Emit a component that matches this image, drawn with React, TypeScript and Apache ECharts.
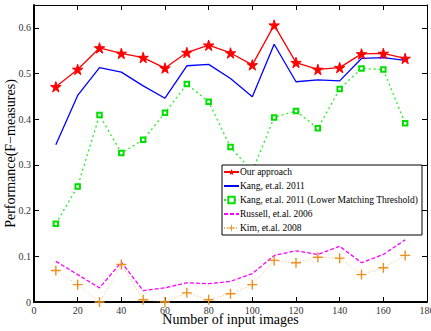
import React, { useEffect, useRef } from "react";
import * as echarts from "echarts";

const xValues = [10, 20, 30, 40, 50, 60, 70, 80, 90, 100, 110, 120, 130, 140, 150, 160, 170];
const ourApproach = [0.471, 0.509, 0.556, 0.544, 0.535, 0.512, 0.546, 0.562, 0.545, 0.519, 0.606, 0.524, 0.509, 0.513, 0.543, 0.544, 0.533];
const kang2011 = [0.344, 0.452, 0.513, 0.503, 0.473, 0.446, 0.517, 0.52, 0.489, 0.449, 0.564, 0.482, 0.486, 0.484, 0.533, 0.535, 0.529];
const kangLower = [0.171, 0.253, 0.409, 0.326, 0.355, 0.414, 0.477, 0.438, 0.339, 0.286, 0.404, 0.418, 0.38, 0.466, 0.511, 0.509, 0.391];
const russell2006 = [0.089, 0.06, 0.031, 0.087, 0.025, 0.031, 0.042, 0.04, 0.045, 0.062, 0.102, 0.112, 0.104, 0.122, 0.086, 0.104, 0.136];
const kim2008 = [0.069, 0.038, 0.0, 0.082, 0.005, 0.0, 0.02, 0.005, 0.018, 0.038, 0.091, 0.086, 0.098, 0.096, 0.06, 0.075, 0.102];
const seriesNames = [
  "Our approach",
  "Kang, et.al. 2011",
  "Kang, et.al. 2011 (Lower Matching Threshold)",
  "Russell, et.al. 2006",
  "Kim, et.al. 2008",
];

const STAR = "path://M50,0 L61,35 L98,35 L68,57 L79,91 L50,70 L21,91 L32,57 L2,35 L39,35 Z";
const PLUS = "path://M4.3,0 H5.7 V4.3 H10 V5.7 H5.7 V10 H4.3 V5.7 H0 V4.3 H4.3 Z";
const FONT = "'Liberation Serif', 'Times New Roman', serif";

function pairs(ys: number[]) {
  return xValues.map((x, i) => [x, ys[i]]);
}

export default function App() {
  const ref = useRef<HTMLDivElement>(null);
  useEffect(() => {
    document.body.style.margin = "0";
    const chart = echarts.init(ref.current!, null, { renderer: "svg" });
    const tickLabel = { fontFamily: FONT, fontSize: 10, color: "#333" };
    chart.setOption({
      animation: false,
      backgroundColor: "#fff",
      grid: { left: 34, right: 4, top: 5, bottom: 29, show: false, containLabel: false, outerBoundsMode: "none" },
      legend: {
        orient: "vertical",
        left: 222,
        top: 165,
        backgroundColor: "#fff",
        borderColor: "#000",
        borderWidth: 1,
        padding: [2, 4, 2, 1],
        itemGap: 4,
        itemWidth: 15,
        itemHeight: 8,
        textStyle: { fontFamily: FONT, fontSize: 9.5, color: "#000", padding: [0, 0, 0, -4] },
        data: seriesNames,
      },
      xAxis: [
        {
          type: "value",
          min: 0,
          max: 180,
          interval: 20,
          name: "Number of input images",
          nameLocation: "middle",
          nameGap: 10,
          nameMoveOverlap: false,
          nameTextStyle: { fontFamily: FONT, fontSize: 14, color: "#000", verticalAlign: "top" },
          axisLine: { show: true, onZero: false, lineStyle: { color: "#000", width: 2 } },
          axisTick: { show: true, inside: true, length: 5, lineStyle: { color: "#000" } },
          axisLabel: { ...tickLabel, margin: 3 },
          splitLine: { show: false },
        },
        {
          type: "value",
          position: "top",
          min: 0,
          max: 180,
          interval: 20,
          axisLine: { show: true, onZero: false, lineStyle: { color: "#000", width: 1 } },
          axisTick: { show: true, inside: true, length: 5, lineStyle: { color: "#000" } },
          axisLabel: { show: false },
          splitLine: { show: false },
        },
      ],
      yAxis: [
        {
          type: "value",
          min: 0,
          max: 0.65,
          interval: 0.1,
          name: "Performance(F\u2212measures)",
          nameLocation: "middle",
          nameGap: 17,
          nameMoveOverlap: false,
          nameTextStyle: { fontFamily: FONT, fontSize: 14, color: "#000" },
          axisLine: { show: true, onZero: false, lineStyle: { color: "#000", width: 2 } },
          axisTick: { show: true, inside: true, length: 5, lineStyle: { color: "#000" } },
          axisLabel: {
            ...tickLabel,
            margin: 3,
            formatter: (v: number) => (v === 0 ? "0" : v.toFixed(1)),
            showMaxLabel: false,
          },
          splitLine: { show: false },
        },
        {
          type: "value",
          position: "right",
          min: 0,
          max: 0.65,
          interval: 0.1,
          axisLine: { show: true, onZero: false, lineStyle: { color: "#000", width: 1 } },
          axisTick: { show: true, inside: true, length: 5, lineStyle: { color: "#000" } },
          axisLabel: { show: false },
          splitLine: { show: false },
        },
      ],
      series: [
        {
          name: seriesNames[0],
          type: "line",
          data: pairs(ourApproach),
          symbol: STAR,
          symbolSize: 10.5,
          itemStyle: { color: "#ff0000", borderColor: "#ff0000" },
          lineStyle: { color: "#ff0000", width: 1.3 },
          z: 5,
        },
        {
          name: seriesNames[1],
          type: "line",
          data: pairs(kang2011),
          symbol: "circle",
          showSymbol: false,
          itemStyle: { color: "rgba(0,0,0,0)" },
          lineStyle: { color: "#0000ff", width: 1.3 },
          z: 4,
        },
        {
          name: seriesNames[2],
          type: "line",
          data: pairs(kangLower),
          symbol: "emptyRect",
          symbolSize: 4.5,
          itemStyle: { color: "#00e000", borderColor: "#00dd00", borderWidth: 1.2 },
          lineStyle: { color: "#22ee22", width: 1.3, type: [2, 3] },
          z: 3,
        },
        {
          name: seriesNames[3],
          type: "line",
          data: pairs(russell2006),
          symbol: "circle",
          showSymbol: false,
          itemStyle: { color: "rgba(0,0,0,0)" },
          lineStyle: { color: "#ff00ff", width: 1.3, type: [4, 2] },
          z: 2,
        },
        {
          name: seriesNames[4],
          type: "line",
          data: pairs(kim2008),
          symbol: PLUS,
          symbolSize: 10,
          itemStyle: { color: "#ee9020" },
          lineStyle: { color: "#f0b060", width: 0.8, type: [1, 2] },
          z: 6,
        },
      ],
    });
    return () => chart.dispose();
  }, []);
  return <div ref={ref} style={{ width: 431, height: 331 }} />;
}
